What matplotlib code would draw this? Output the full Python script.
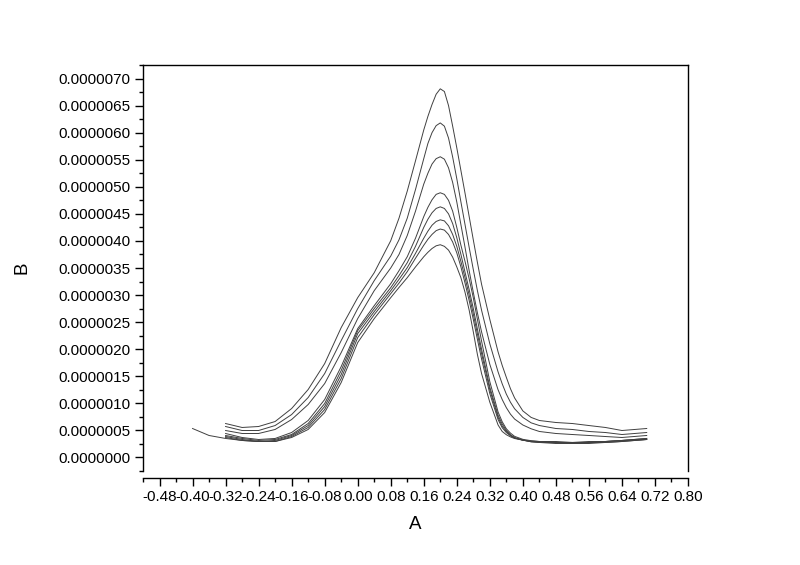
import matplotlib
matplotlib.use("Agg")
import matplotlib.pyplot as plt
from matplotlib.ticker import MultipleLocator, FormatStrFormatter
import numpy as np

# A values shared by most curves; one curve starts further left
A_MAIN = [-0.32, -0.28, -0.24, -0.20, -0.16, -0.12, -0.08, -0.04, 0.00, 0.04,
          0.08, 0.10, 0.12, 0.14, 0.16, 0.17, 0.18, 0.19, 0.20, 0.21,
          0.22, 0.23, 0.24, 0.25, 0.26, 0.27, 0.28, 0.29, 0.30, 0.32,
          0.34, 0.35, 0.36, 0.37, 0.38, 0.40, 0.42, 0.44, 0.48, 0.52,
          0.56, 0.60, 0.64, 0.70]
A_LONG = [-0.40, -0.36] + A_MAIN

# B values, in units of 1e-6
B1 = [0.627, 0.554, 0.572, 0.664, 0.904, 1.255, 1.734, 2.399, 2.952, 3.413,
      4.004, 4.42, 4.92, 5.48, 6.05, 6.30, 6.52, 6.71, 6.81, 6.76,
      6.50, 6.12, 5.72, 5.30, 4.88, 4.45, 4.02, 3.60, 3.20, 2.55,
      1.95, 1.70, 1.48, 1.27, 1.10, 0.86, 0.74, 0.683, 0.646, 0.627,
      0.590, 0.554, 0.498, 0.535]
B2 = [0.572, 0.498, 0.498, 0.590, 0.793, 1.107, 1.550, 2.159, 2.749, 3.266,
      3.72, 4.02, 4.42, 4.95, 5.52, 5.80, 6.00, 6.13, 6.18, 6.12,
      5.90, 5.55, 5.15, 4.72, 4.30, 3.88, 3.47, 3.08, 2.72, 2.10,
      1.58, 1.36, 1.17, 1.02, 0.90, 0.74, 0.64, 0.590, 0.535, 0.517,
      0.480, 0.461, 0.424, 0.461]
B3 = [0.498, 0.443, 0.443, 0.517, 0.701, 0.978, 1.365, 1.937, 2.565, 3.081,
      3.50, 3.75, 4.10, 4.55, 5.05, 5.25, 5.42, 5.52, 5.555, 5.51,
      5.35, 5.08, 4.72, 4.30, 3.88, 3.45, 3.05, 2.67, 2.32, 1.72,
      1.25, 1.07, 0.92, 0.80, 0.71, 0.60, 0.53, 0.480, 0.443, 0.424,
      0.406, 0.387, 0.369, 0.406]
B4 = [0.443, 0.369, 0.332, 0.351, 0.461, 0.683, 1.070, 1.679, 2.380, 2.804,
      3.210, 3.45, 3.708, 4.05, 4.45, 4.62, 4.76, 4.86, 4.89, 4.86,
      4.75, 4.55, 4.25, 3.92, 3.62, 3.30, 2.95, 2.55, 2.15, 1.40,
      0.84, 0.66, 0.53, 0.45, 0.39, 0.335, 0.31, 0.295, 0.277, 0.277,
      0.277, 0.295, 0.314, 0.332]
B5 = [0.406, 0.351, 0.314, 0.332, 0.424, 0.627, 0.996, 1.605, 2.343, 2.749,
      3.137, 3.36, 3.598, 3.90, 4.25, 4.40, 4.52, 4.60, 4.63, 4.60,
      4.50, 4.32, 4.06, 3.75, 3.42, 3.10, 2.75, 2.37, 2.00, 1.30,
      0.78, 0.62, 0.50, 0.42, 0.37, 0.32, 0.29, 0.277, 0.258, 0.258,
      0.277, 0.277, 0.295, 0.332]
B6 = [0.387, 0.332, 0.295, 0.314, 0.406, 0.590, 0.941, 1.531, 2.288, 2.694,
      3.081, 3.29, 3.506, 3.77, 4.05, 4.18, 4.29, 4.36, 4.39, 4.37,
      4.28, 4.12, 3.90, 3.62, 3.32, 3.00, 2.65, 2.28, 1.92, 1.25,
      0.74, 0.58, 0.48, 0.41, 0.36, 0.32, 0.29, 0.277, 0.277, 0.258,
      0.258, 0.277, 0.295, 0.332]
B7 = [0.369, 0.314, 0.295, 0.295, 0.387, 0.554, 0.886, 1.458, 2.214, 2.638,
      3.026, 3.22, 3.432, 3.68, 3.92, 4.03, 4.12, 4.19, 4.22, 4.20,
      4.12, 3.98, 3.78, 3.52, 3.22, 2.90, 2.55, 2.18, 1.82, 1.18,
      0.70, 0.55, 0.46, 0.40, 0.36, 0.32, 0.30, 0.295, 0.277, 0.277,
      0.277, 0.295, 0.314, 0.351]
B8 = [0.535, 0.406, 0.351, 0.314, 0.295, 0.295, 0.369, 0.517, 0.830, 1.384,
      2.122, 2.565, 2.952, 3.14, 3.321, 3.52, 3.708, 3.79, 3.86, 3.91,
      3.93, 3.90, 3.83, 3.70, 3.52, 3.32, 3.05, 2.72, 2.32, 1.90,
      1.55, 1.02, 0.60, 0.48, 0.42, 0.38, 0.35, 0.32, 0.30, 0.295,
      0.295, 0.277, 0.295, 0.295, 0.314, 0.351]

SERIES = [(A_MAIN, B1), (A_MAIN, B2), (A_MAIN, B3), (A_MAIN, B4),
          (A_MAIN, B5), (A_MAIN, B6), (A_MAIN, B7), (A_LONG, B8)]


def main():
    plt.rcParams.update({
        "font.family": ["Liberation Sans", "DejaVu Sans"],
        "axes.unicode_minus": False,
    })

    W, H = 800, 565
    fig = plt.figure(figsize=(W / 100, H / 100), dpi=100)
    ax = fig.add_axes([143 / W, 1 - 471 / H, 545 / W, 406 / H])

    for a, b in SERIES:
        ax.plot(a, np.array(b) * 1e-6, color="#404040", linewidth=0.7)

    ax.set_xlim(-0.52, 0.80)
    ax.set_ylim(-0.25e-6, 7.25e-6)

    ax.xaxis.set_major_locator(MultipleLocator(0.08))
    ax.xaxis.set_minor_locator(MultipleLocator(0.04))
    ax.yaxis.set_major_locator(MultipleLocator(0.5e-6))
    ax.yaxis.set_minor_locator(MultipleLocator(0.25e-6))
    ax.xaxis.set_major_formatter(FormatStrFormatter("%.2f"))
    ax.yaxis.set_major_formatter(FormatStrFormatter("%.7f"))

    ax.spines["bottom"].set_position(("outward", 5))
    for s in ax.spines.values():
        s.set_linewidth(1.0)
        s.set_color("black")

    ax.tick_params(axis="both", which="major", direction="out", length=6,
                   width=1.0, labelsize=11, pad=3)
    ax.tick_params(axis="both", which="minor", direction="out", length=3,
                   width=1.0)
    ax.tick_params(top=False, right=False, which="both")

    ax.set_xlabel("A", fontsize=13.5)
    ax.set_ylabel("B", fontsize=13.5)
    ax.xaxis.set_label_coords(0.5, -0.111)
    ax.yaxis.set_label_coords(-0.207, 0.5)

    fig.savefig("out.png", dpi=100, facecolor="white")
    plt.close(fig)


if __name__ == "__main__":
    main()
